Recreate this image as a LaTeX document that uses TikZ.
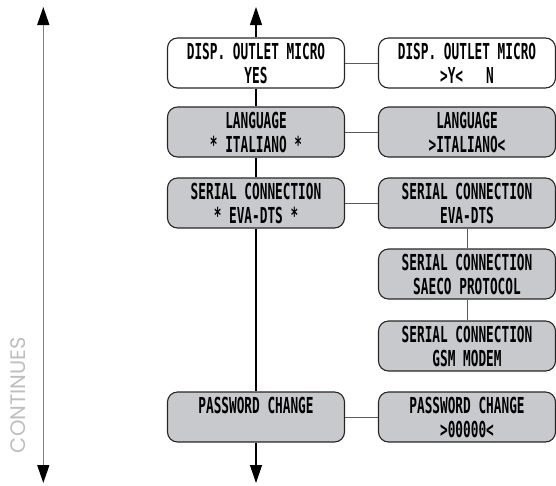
\documentclass[tikz,border=0pt]{standalone}
\usepackage{fontspec}
\usetikzlibrary{arrows.meta}
\newfontfamily\boxfont[FakeStretch=0.58]{DejaVu Sans Mono}
\newfontfamily\contfont{Poppins}
\definecolor{boxgray}{RGB}{200,201,204}
\definecolor{contgray}{RGB}{190,190,192}
\definecolor{linkgray}{RGB}{90,90,90}
\definecolor{leftgray}{RGB}{130,130,130}
\begin{document}
\begin{tikzpicture}[x=1pt,y=-1pt,
  box/.style={draw=black!85, line width=1.1pt, rounded corners=10pt,
    minimum width=177pt, minimum height=50pt, align=center, inner sep=0pt,
    font=\boxfont\bfseries\fontsize{22}{24}\selectfont},
  gbox/.style={box, fill=boxgray},
  wbox/.style={box, fill=white},
  link/.style={draw=linkgray, line width=1pt},
  spine/.style={draw=black, line width=1.1pt},
  tipend/.style={-{Triangle[width=12pt,length=18pt,color=black]}},
  tipboth/.style={{Triangle[width=12pt,length=18pt,color=black]}-{Triangle[width=12pt,length=18pt,color=black]}}
]
\useasboundingbox (0,0) rectangle (556,485);
% left column
\node[wbox] (d1) at (256,63)  {DISP. OUTLET MICRO\\YES};
\node[gbox] (l1) at (256,132) {LANGUAGE\\* ITALIANO *};
\node[gbox] (s1) at (256,203) {SERIAL CONNECTION\\* EVA-DTS *};
\node[gbox] (p1) at (256,417) {PASSWORD CHANGE\\\phantom{X}};
% right column
\node[wbox] (d2) at (467,63)  {DISP. OUTLET MICRO\\>Y<~~~N};
\node[gbox] (l2) at (467,132) {LANGUAGE\\>ITALIANO<};
\node[gbox] (s2) at (467,203) {SERIAL CONNECTION\\EVA-DTS};
\node[gbox] (s3) at (467,274) {SERIAL CONNECTION\\SAECO PROTOCOL};
\node[gbox] (s4) at (467,346) {SERIAL CONNECTION\\GSM MODEM};
\node[gbox] (p2) at (467,417) {PASSWORD CHANGE\\>00000<};
% arrow ends
\coordinate (mtop) at (256,7);
\coordinate (mbot) at (256,483);
\coordinate (ltop) at (43.3,7);
\coordinate (lbot) at (43.3,483);
% main spine
\draw[spine,tipend] (d1.north) -- (mtop);
\draw[spine] (d1) -- (l1);
\draw[spine] (l1) -- (s1);
\draw[spine] (s1) -- (p1);
\draw[spine,tipend] (p1.south) -- (mbot);
% horizontal links
\draw[link] (d1) -- (d2);
\draw[link] (l1) -- (l2);
\draw[link] (s1) -- (s2);
\draw[link] (p1) -- (p2);
% right vertical links
\draw[link] (s2) -- (s3);
\draw[link] (s3) -- (s4);
% left arrow
\draw[draw=leftgray, line width=1.4pt, tipboth] (ltop) -- (lbot);
\node[rotate=90, text=contgray, font=\contfont\fontsize{21}{21}\selectfont, inner sep=0pt] (cont) at (18,395) {CONTINUES};
\end{tikzpicture}
\end{document}
